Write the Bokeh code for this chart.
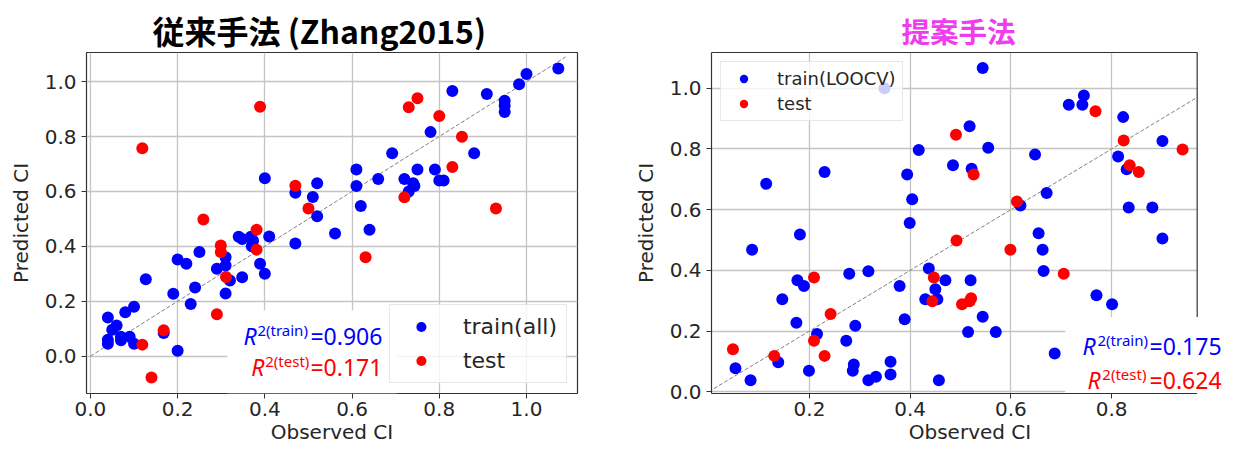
from bokeh.plotting import figure
from bokeh.models import (Range1d, FixedTicker, NumeralTickFormatter, Legend, LegendItem,
                          Label, BoxAnnotation)
from bokeh.layouts import row
from bokeh.embed import file_html
from bokeh.resources import INLINE

# ---------------- data: conventional method (Zhang2015) ----------------
zh_train_obs = [0.04, 0.04, 0.04, 0.05, 0.06, 0.07, 0.07, 0.08, 0.09, 0.10,
                0.10, 0.127, 0.168, 0.19, 0.20, 0.20, 0.22, 0.23, 0.24, 0.25,
                0.29, 0.31, 0.31, 0.31, 0.32, 0.34, 0.348, 0.348, 0.368, 0.37,
                0.373, 0.389, 0.40, 0.40, 0.41, 0.47, 0.47, 0.51, 0.52, 0.52,
                0.561, 0.61, 0.61, 0.62, 0.64, 0.66, 0.692, 0.72, 0.73, 0.74,
                0.743, 0.75, 0.78, 0.79, 0.80, 0.81, 0.83, 0.88, 0.909, 0.95,
                0.95, 0.95, 0.983, 1.0, 1.073]
zh_train_pred = [0.141, 0.06, 0.045, 0.096, 0.112, 0.071, 0.058, 0.16, 0.071, 0.045,
                 0.18, 0.28, 0.084, 0.227, 0.352, 0.02, 0.337, 0.19, 0.25, 0.379,
                 0.318, 0.36, 0.33, 0.228, 0.276, 0.435, 0.427, 0.287, 0.435, 0.40,
                 0.42, 0.337, 0.648, 0.30, 0.436, 0.595, 0.41, 0.58, 0.63, 0.51,
                 0.447, 0.68, 0.62, 0.547, 0.46, 0.645, 0.739, 0.645, 0.60, 0.63,
                 0.62, 0.68, 0.816, 0.68, 0.64, 0.64, 0.966, 0.739, 0.955, 0.93,
                 0.912, 0.889, 0.99, 1.028, 1.048]
zh_test_obs = [0.119, 0.119, 0.14, 0.168, 0.259, 0.29, 0.299, 0.299, 0.311, 0.381,
               0.381, 0.389, 0.47, 0.50, 0.631, 0.72, 0.73, 0.75, 0.80, 0.83,
               0.852, 0.93]
zh_test_pred = [0.757, 0.042, -0.078, 0.094, 0.498, 0.153, 0.403, 0.379, 0.288, 0.46,
                0.388, 0.908, 0.621, 0.538, 0.36, 0.579, 0.907, 0.939, 0.875, 0.689,
                0.799, 0.538]

# ---------------- data: proposed method ----------------
pr_train_obs = [0.053, 0.083, 0.086, 0.114, 0.138, 0.146, 0.174, 0.176, 0.181, 0.189,
                0.199, 0.215, 0.230, 0.273, 0.279, 0.286, 0.288, 0.291, 0.317, 0.317,
                0.332, 0.349, 0.361, 0.361, 0.379, 0.389, 0.394, 0.399, 0.404, 0.417,
                0.430, 0.437, 0.450, 0.454, 0.457, 0.470, 0.485, 0.515, 0.518, 0.520,
                0.522, 0.544, 0.544, 0.555, 0.570, 0.619, 0.648, 0.655, 0.663, 0.665,
                0.671, 0.687, 0.715, 0.742, 0.745, 0.770, 0.801, 0.813, 0.823, 0.830,
                0.834, 0.881, 0.901, 0.901]
pr_train_pred = [0.077, 0.038, 0.468, 0.685, 0.097, 0.305, 0.227, 0.367, 0.518, 0.348,
                 0.069, 0.19, 0.724, 0.168, 0.389, 0.069, 0.090, 0.217, 0.397, 0.038,
                 0.049, 1.0, 0.057, 0.099, 0.348, 0.239, 0.716, 0.556, 0.634, 0.797,
                 0.305, 0.406, 0.338, 0.305, 0.038, 0.367, 0.746, 0.197, 0.875, 0.367,
                 0.735, 0.247, 1.067, 0.804, 0.197, 0.614, 0.782, 0.522, 0.468, 0.398,
                 0.655, 0.126, 0.946, 0.946, 0.976, 0.318, 0.288, 0.775, 0.905, 0.733,
                 0.607, 0.607, 0.826, 0.505]
pr_test_obs = [0.048, 0.130, 0.209, 0.209, 0.230, 0.242, 0.444, 0.447, 0.491, 0.492,
               0.503, 0.518, 0.521, 0.526, 0.599, 0.612, 0.705, 0.768, 0.824, 0.836,
               0.854, 0.941]
pr_test_pred = [0.14, 0.118, 0.376, 0.168, 0.118, 0.256, 0.298, 0.376, 0.847, 0.498,
                0.288, 0.298, 0.308, 0.716, 0.468, 0.627, 0.389, 0.924, 0.828, 0.746,
                0.724, 0.798]

tick_values = [0.0, 0.2, 0.4, 0.6, 0.8, 1.0]
pr_x_tick_values = [0.2, 0.4, 0.6, 0.8]
zh_r2_train, zh_r2_test = "0.906", "0.171"
pr_r2_train, pr_r2_test = "0.175", "0.624"

BLUE = "#0000ff"
RED = "#ff0000"
TXT = "#262626"
SPINE = "#333333"


def make_fig(title, title_color, title_size, title_offset, xr, yr, width, height,
             bl, br, bt, bb, train_x, train_y, test_x, test_y, diag_end, xticks):
    p = figure(width=width, height=height,
               x_range=Range1d(*xr), y_range=Range1d(*yr),
               min_border_left=bl, min_border_right=br, min_border_top=bt,
               min_border_bottom=bb, output_backend="svg", toolbar_location=None,
               background_fill_color="white", border_fill_color="white")
    p.title.text = title
    p.title.text_font = "Noto Sans CJK JP"
    p.title.text_font_style = "bold"
    p.title.text_font_size = title_size
    p.title.text_color = title_color
    p.title.align = "left"
    p.title.offset = title_offset
    p.title.standoff = 0

    p.outline_line_color = SPINE
    p.outline_line_width = 1.2
    p.xaxis.ticker = FixedTicker(ticks=xticks)
    p.yaxis.ticker = FixedTicker(ticks=tick_values)
    for ax in (p.xaxis, p.yaxis):
        ax.formatter = NumeralTickFormatter(format="0.0")
        ax.axis_line_color = None
        ax.major_tick_line_color = SPINE
        ax.major_tick_in = 0
        ax.major_tick_out = 5
        ax.minor_tick_line_color = None
        ax.major_label_text_font = "DejaVu Sans"
        ax.major_label_text_font_size = "20px"
        ax.major_label_text_color = TXT
        ax.axis_label_text_font = "DejaVu Sans"
        ax.axis_label_text_font_size = "20px"
        ax.axis_label_text_font_style = "normal"
        ax.axis_label_text_color = TXT
    p.xaxis.axis_label = "Observed CI"
    p.yaxis.axis_label = "Predicted CI"
    p.xaxis.major_label_standoff = 3
    p.xaxis.axis_label_standoff = 1
    p.yaxis.major_label_standoff = 5
    p.yaxis.axis_label_standoff = 9
    p.grid.grid_line_color = "#c4c4c4"
    p.grid.grid_line_width = 1.3

    p.line([0, diag_end], [0, diag_end], line_color="#808080", line_width=1,
           line_dash="4 2")
    r_train = p.scatter(train_x, train_y, size=12, fill_color=BLUE, line_color=None)
    r_test = p.scatter(test_x, test_y, size=12, fill_color=RED, line_color=None)
    return p, r_train, r_test


def add_r2(p, r_x, sup_x, val_x, y1, y2, sup_dy, r2_train, r2_test, size, sup_size):
    for (rx, sx, y, sup, val, col) in ((r_x[0], sup_x[0], y1, "2(train)", r2_train, BLUE),
                                        (r_x[1], sup_x[1], y2, "2(test)", r2_test, RED)):
        p.add_layout(Label(x=rx, y=y, text="R", text_font="Noto Sans",
                           text_font_style="italic", text_font_size=size,
                           text_color=col, text_baseline="alphabetic"))
        p.add_layout(Label(x=sx, y=y + sup_dy, text=sup, text_font="Noto Sans",
                           text_font_size=sup_size, text_color=col,
                           text_baseline="alphabetic"))
        p.add_layout(Label(x=val_x, y=y, text="=" + val, text_font="Noto Sans",
                           text_font_size=size, text_color=col,
                           text_baseline="alphabetic"))


def make_legend(items, loc, font, pad, gw, lh, sp, standoff, margin):
    return Legend(items=items, location=loc, label_text_font="DejaVu Sans",
                  label_text_font_size=font, label_text_color=TXT, padding=pad,
                  glyph_width=gw, glyph_height=lh, label_height=lh, spacing=sp,
                  label_standoff=standoff, margin=margin,
                  border_line_color="#d0d0d0", border_line_width=1,
                  background_fill_color="white", background_fill_alpha=0.8)


# ---------- left figure ----------
zh_xr = (-0.009, 1.117)
zh_yr = (-0.136, 1.106)
p1, r1a, r1b = make_fig("従来手法 (Zhang2015)", "black", "32px", 66,
                        zh_xr, zh_yr, 627, 455, 86, 50, 52, 59,
                        zh_train_obs, zh_train_pred, zh_test_obs, zh_test_pred,
                        1.09, tick_values)
p1.add_layout(BoxAnnotation(left=0.314, right=0.704, bottom=zh_yr[0], top=0.167,
                            fill_color="white", fill_alpha=1.0, line_color=None,
                            level="underlay"))
add_r2(p1, (0.351, 0.369), (0.383, 0.401), 0.5046, 0.0734, -0.0398, 0.022,
       zh_r2_train, zh_r2_test, "23px", "15px")
p1.add_layout(make_legend([LegendItem(label="train(all)", renderers=[r1a]),
                           LegendItem(label="test", renderers=[r1b])],
                          "bottom_right", "22px", 9, 44, 25, 9, 20, 10), "center")

# ---------- right figure (frame widened so the R² text can overflow the spine) ----------
pr_xr = (0.0054, 1.0322)
pr_yr = (-0.006, 1.118)
pr_spine_right = 0.970
p2, r2a, r2b = make_fig("提案手法", "#ee3cee", "28.5px", 190,
                        pr_xr, pr_yr, 605, 455, 84, 4, 52, 62,
                        pr_train_obs, pr_train_pred, pr_test_obs, pr_test_pred,
                        pr_spine_right, pr_x_tick_values)
p2.title.standoff = 3
p2.outline_line_color = None
p2.yaxis.axis_line_color = SPINE
p2.yaxis.axis_line_width = 1.2
# blank the strip right of the spine, and the box behind the R² text
p2.add_layout(BoxAnnotation(left=pr_spine_right, right=1.2, bottom=-1, top=2,
                            fill_color="white", fill_alpha=1.0, line_color=None,
                            level="underlay"))
p2.add_layout(BoxAnnotation(left=0.708, right=1.2, bottom=-1, top=0.246,
                            fill_color="white", fill_alpha=1.0, line_color=None,
                            level="underlay"))
# spines (top / bottom / right part above the text box)
sp = p2.segment(x0=[pr_xr[0], pr_xr[0], pr_spine_right],
                y0=[pr_yr[1], pr_yr[0], 0.246],
                x1=[pr_spine_right, pr_spine_right, pr_spine_right],
                y1=[pr_yr[1], pr_yr[0], pr_yr[1]],
                line_color=SPINE, line_width=1.2)
sp.level = "overlay"
add_r2(p2, (0.742, 0.752), (0.772, 0.7816), 0.8755, 0.150, 0.0385, 0.02,
       pr_r2_train, pr_r2_test, "23px", "15px")
p2.add_layout(make_legend([LegendItem(label="train(LOOCV)", renderers=[r2a]),
                           LegendItem(label="test", renderers=[r2b])],
                          "top_left", "18px", 6, 33, 21, 4, 17, 9), "center")

layout = row(p1, p2)
open("out.html", "w").write(file_html(layout, INLINE))
